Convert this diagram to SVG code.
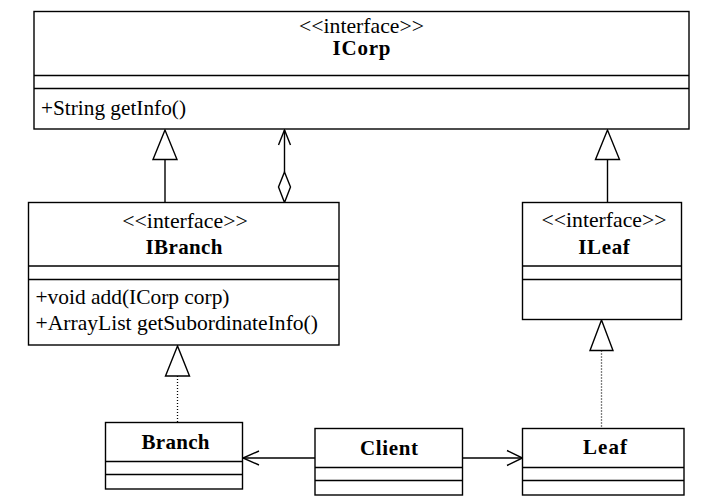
<svg xmlns="http://www.w3.org/2000/svg" width="722" height="500" viewBox="0 0 722 500">
<defs>
<style>
.box{fill:#fff;stroke:#000;stroke-width:1.4}
.div{stroke:#000;stroke-width:1.4}
.t{font-family:"Liberation Serif","Times New Roman",serif;font-size:21px;fill:#000}
.n{font-family:"Liberation Serif","Times New Roman",serif;font-size:21px;font-weight:bold;fill:#000}
.c{text-anchor:middle}
.ln{stroke:#000;stroke-width:1.4;fill:none}
.dot{stroke:#000;stroke-width:1.3;fill:none;stroke-dasharray:1 2}
.tri{fill:#fff;stroke:#000;stroke-width:1.4}
</style>
</defs>
<rect width="722" height="500" fill="#fff"/>
<g id="connectors">
  <line class="ln" x1="165" y1="202.5" x2="165" y2="159.5"/>
  <polygon class="tri" points="165,130 153,159.5 177,159.5"/>
  <line class="ln" x1="284.5" y1="172" x2="284.5" y2="130"/>
  <polyline class="ln" points="278.5,145 284.5,130 290.5,145"/>
  <polygon class="tri" points="284.5,172 290.5,187 284.5,202.5 278.5,187"/>
  <line class="ln" x1="607.5" y1="202.5" x2="607.5" y2="159.5"/>
  <polygon class="tri" points="607.5,130 595.5,159.5 619.5,159.5"/>
  <line class="dot" x1="177.5" y1="376" x2="177.5" y2="422"/>
  <polygon class="tri" points="177.5,346 165.5,376 189.5,376"/>
  <line class="dot" x1="601.5" y1="350.5" x2="601.5" y2="428"/>
  <polygon class="tri" points="601.5,320 590,350.5 613,350.5"/>
  <line class="ln" x1="315" y1="458" x2="243" y2="458"/>
  <polyline class="ln" points="259,451 243,458 259,465"/>
  <line class="ln" x1="462.5" y1="458" x2="522.5" y2="458"/>
  <polyline class="ln" points="507,450.5 522.5,458 507,465.5"/>
</g>
<g id="ICorp">
  <rect class="box" x="34" y="11.5" width="655" height="117.5"/>
  <line class="div" x1="34" y1="75.5" x2="689" y2="75.5"/>
  <line class="div" x1="34" y1="88.5" x2="689" y2="88.5"/>
  <text class="t c" x="361.5" y="32.5" textLength="125" lengthAdjust="spacingAndGlyphs">&lt;&lt;interface&gt;&gt;</text>
  <text class="n c" x="361.5" y="55" textLength="58">ICorp</text>
  <text class="t" x="41" y="115" textLength="145" lengthAdjust="spacingAndGlyphs">+String getInfo()</text>
</g>
<g id="IBranch">
  <rect class="box" x="28.5" y="202.5" width="310.5" height="142.5"/>
  <line class="div" x1="28.5" y1="266" x2="339" y2="266"/>
  <line class="div" x1="28.5" y1="279.5" x2="339" y2="279.5"/>
  <text class="t c" x="185" y="228" textLength="125.5" lengthAdjust="spacingAndGlyphs">&lt;&lt;interface&gt;&gt;</text>
  <text class="n c" x="184" y="254" textLength="77">IBranch</text>
  <text class="t" x="35.5" y="304" textLength="194" lengthAdjust="spacingAndGlyphs">+void add(ICorp corp)</text>
  <text class="t" x="35.5" y="329.5" textLength="282.5" lengthAdjust="spacingAndGlyphs">+ArrayList getSubordinateInfo()</text>
</g>
<g id="ILeaf">
  <rect class="box" x="522.5" y="202.5" width="159" height="117"/>
  <line class="div" x1="522.5" y1="266" x2="681.5" y2="266"/>
  <line class="div" x1="522.5" y1="279.5" x2="681.5" y2="279.5"/>
  <text class="t c" x="604" y="227" textLength="125" lengthAdjust="spacingAndGlyphs">&lt;&lt;interface&gt;&gt;</text>
  <text class="n c" x="604" y="254" textLength="51.5">ILeaf</text>
</g>
<g id="Branch">
  <rect class="box" x="105.5" y="422.5" width="137" height="66.5"/>
  <line class="div" x1="105.5" y1="461.5" x2="242.5" y2="461.5"/>
  <line class="div" x1="105.5" y1="474.5" x2="242.5" y2="474.5"/>
  <text class="n c" x="175.5" y="449" textLength="68">Branch</text>
</g>
<g id="Client">
  <rect class="box" x="315" y="428.5" width="147.5" height="66.5"/>
  <line class="div" x1="315" y1="467.5" x2="462.5" y2="467.5"/>
  <line class="div" x1="315" y1="480.5" x2="462.5" y2="480.5"/>
  <text class="n c" x="389" y="455" textLength="58">Client</text>
</g>
<g id="Leaf">
  <rect class="box" x="522.5" y="428.5" width="161.5" height="66.5"/>
  <line class="div" x1="522.5" y1="467.5" x2="684" y2="467.5"/>
  <line class="div" x1="522.5" y1="480.5" x2="684" y2="480.5"/>
  <text class="n c" x="605" y="454" textLength="44">Leaf</text>
</g>
</svg>
